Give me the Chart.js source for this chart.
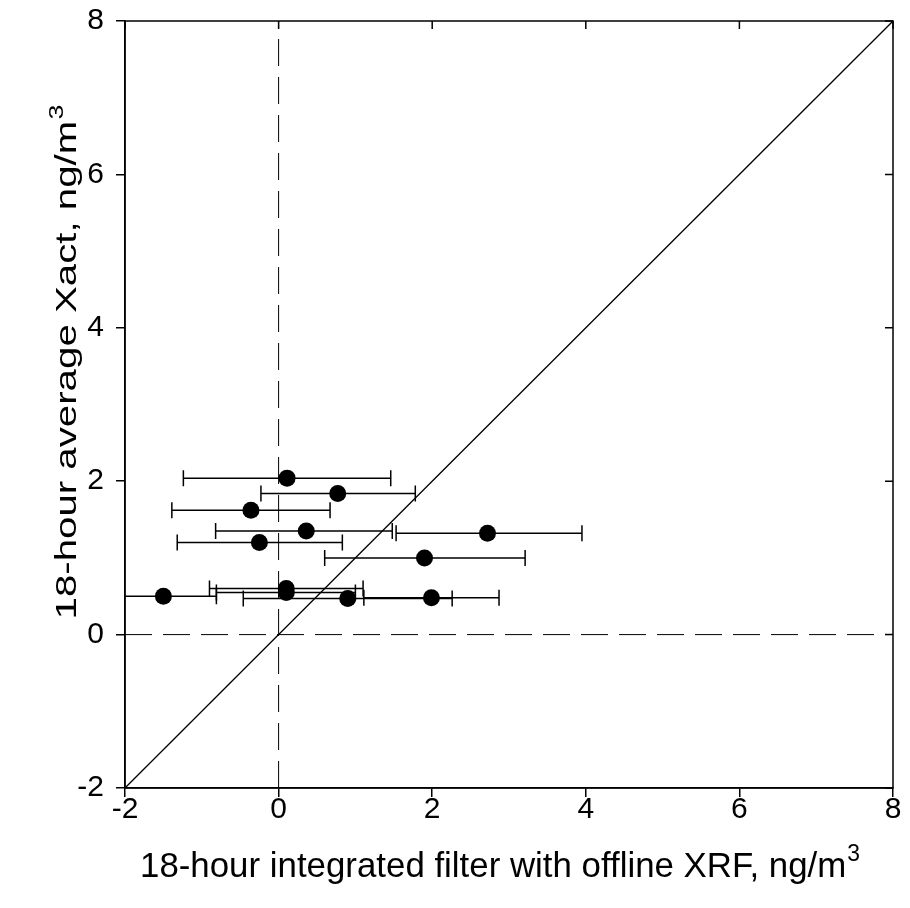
<!DOCTYPE html>
<html>
<head>
<meta charset="utf-8">
<script src="https://cdn.jsdelivr.net/npm/chart.js@4.4.0/dist/chart.umd.min.js"></script>
<style>
  html, body { margin: 0; padding: 0; background: #fff; }
  #wrap { width: 910px; height: 908px; }
</style>
</head>
<body>
<div id="wrap"><canvas id="chart" width="910" height="908"></canvas></div>
<script>
// values
const xVals  = [0.11, 0.77, -0.36, 0.36, 2.72, -0.25, 1.90, -1.50, 0.10, 0.10, 0.90, 1.99];
const yVals  = [2.04, 1.84, 1.62, 1.35, 1.32, 1.20, 1.00, 0.50, 0.60, 0.55, 0.47, 0.48];
const xLow   = [-1.24, -0.23, -1.39, -0.82, 1.53, -1.32, 0.60, -2.19, -0.90, -0.81, -0.46, 1.11];
const xHigh  = [1.46, 1.78, 0.67, 1.48, 3.95, 0.83, 3.21, -0.81, 1.10, 1.00, 2.26, 2.87];
const axisTicks = [-2, 0, 2, 4, 6, 8];
const xTitle = '18-hour integrated filter with offline XRF, ng/m';
const yTitle = '18-hour average Xact, ng/m';

const FONT = '"Liberation Sans", Arial, Helvetica, sans-serif';

// horizontal error bars, drawn under the markers
const errorBars = {
    id: 'errorBars',
    beforeDatasetsDraw(chart) {
        const { ctx, chartArea, scales: { x, y } } = chart;
        ctx.save();
        ctx.beginPath();
        ctx.rect(chartArea.left, chartArea.top, chartArea.right - chartArea.left, chartArea.bottom - chartArea.top);
        ctx.clip();
        ctx.strokeStyle = '#000';
        ctx.lineWidth = 1.5;
        xVals.forEach((v, i) => {
            const py = y.getPixelForValue(yVals[i]);
            const x1 = x.getPixelForValue(xLow[i]);
            const x2 = x.getPixelForValue(xHigh[i]);
            ctx.beginPath();
            ctx.moveTo(x1, py); ctx.lineTo(x2, py);
            ctx.moveTo(x1, py - 8); ctx.lineTo(x1, py + 8);
            ctx.moveTo(x2, py - 8); ctx.lineTo(x2, py + 8);
            ctx.stroke();
        });
        ctx.restore();
    }
};

// box frame, inward ticks on top/right, and axis titles with superscript
const frame = {
    id: 'frame',
    afterDraw(chart) {
        const { ctx, chartArea: a, scales: { x, y } } = chart;
        ctx.save();
        ctx.strokeStyle = '#000';
        ctx.lineWidth = 1.5;
        ctx.strokeRect(a.left, a.top, a.right - a.left, a.bottom - a.top);
        ctx.beginPath();
        axisTicks.forEach(t => {
            const px = x.getPixelForValue(t);
            ctx.moveTo(px, a.top); ctx.lineTo(px, a.top + 8);
            const py = y.getPixelForValue(t);
            ctx.moveTo(a.right, py); ctx.lineTo(a.right - 8, py);
        });
        ctx.stroke();

        ctx.fillStyle = '#000';
        ctx.textBaseline = 'alphabetic';
        ctx.textAlign = 'left';
        // stretch each title along its length to the width seen in the reference
        const drawTitle = (text, cx, cy, rot, size, length) => {
            ctx.save();
            ctx.translate(cx, cy);
            ctx.rotate(rot);
            ctx.font = size + 'px ' + FONT;
            const w = ctx.measureText(text).width;
            ctx.font = Math.round(size * 0.65) + 'px ' + FONT;
            const w3 = ctx.measureText('3').width;
            const total = w + w3 + 1;
            ctx.scale(length / total, 1);
            const start = -total / 2;
            ctx.font = size + 'px ' + FONT;
            ctx.fillText(text, start, 0);
            ctx.font = Math.round(size * 0.65) + 'px ' + FONT;
            ctx.fillText('3', start + w + 1, -size * 0.45);
            ctx.restore();
        };
        drawTitle(xTitle, 500, 877, 0, 35, 720);
        drawTitle(yTitle, 76, 362, -Math.PI / 2, 30, 515);
        ctx.restore();
    }
};

new Chart(document.getElementById('chart'), {
    type: 'scatter',
    data: {
        datasets: [
            {
                data: xVals.map((v, i) => ({ x: v, y: yVals[i] })),
                pointRadius: 8.5,
                pointHoverRadius: 8.5,
                pointBackgroundColor: '#000',
                pointBorderColor: '#000',
                pointBorderWidth: 0,
                order: 0
            },
            {
                type: 'line',
                data: [{ x: -2, y: -2 }, { x: 8, y: 8 }],
                borderColor: '#000',
                borderWidth: 1.3,
                pointRadius: 0,
                order: 1
            },
            {
                type: 'line',
                data: [{ x: 0, y: -2 }, { x: 0, y: 8 }],
                borderColor: '#000',
                borderWidth: 1,
                borderDash: [27, 11],
                pointRadius: 0,
                order: 1
            },
            {
                type: 'line',
                data: [{ x: -2, y: 0 }, { x: 8, y: 0 }],
                borderColor: '#000',
                borderWidth: 1,
                borderDash: [27, 11],
                pointRadius: 0,
                order: 1
            }
        ]
    },
    options: {
        responsive: false,
        animation: false,
        layout: { padding: { top: 21, right: 17, left: 0, bottom: 0 } },
        plugins: {
            legend: { display: false },
            tooltip: { enabled: false }
        },
        scales: {
            x: {
                type: 'linear',
                min: -2,
                max: 8,
                afterBuildTicks: s => { s.ticks = axisTicks.map(v => ({ value: v })); },
                afterFit: s => { s.height = 120; s.paddingLeft = 0; s.paddingRight = 0; },
                ticks: { color: '#000', font: { family: FONT, size: 30, lineHeight: 1 }, padding: -2 },
                grid: { drawOnChartArea: false, drawTicks: true, tickLength: 9, color: '#000', lineWidth: 1.5 },
                border: { display: true, color: '#000', width: 1.5 }
            },
            y: {
                type: 'linear',
                min: -2,
                max: 8,
                afterBuildTicks: s => { s.ticks = axisTicks.map(v => ({ value: v })); },
                afterFit: s => { s.width = 125; s.paddingTop = 0; s.paddingBottom = 0; },
                ticks: { color: '#000', font: { family: FONT, size: 30, lineHeight: 1 }, padding: 12 },
                grid: { drawOnChartArea: false, drawTicks: true, tickLength: 9, color: '#000', lineWidth: 1.5 },
                border: { display: true, color: '#000', width: 1.5 }
            }
        }
    },
    plugins: [errorBars, frame]
});
</script>
</body>
</html>
